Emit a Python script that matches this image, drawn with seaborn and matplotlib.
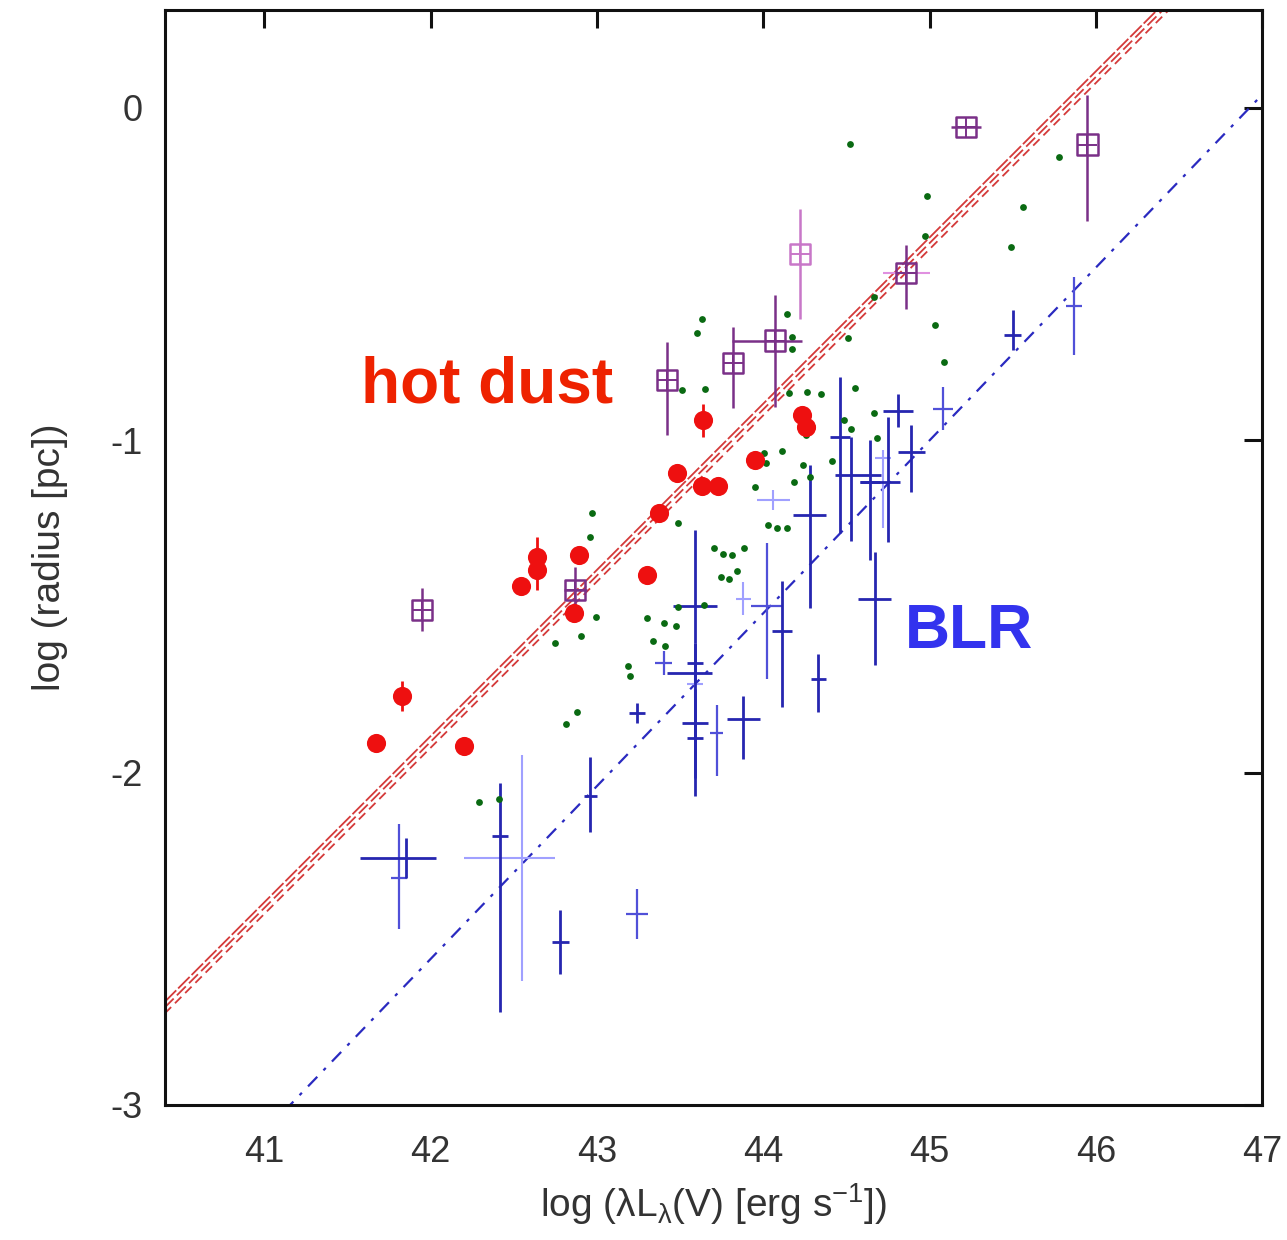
import numpy as np
import pandas as pd
import matplotlib
matplotlib.use("Agg")
import matplotlib.pyplot as plt
import seaborn as sns

# ---------------- data ----------------
# hot-dust reverberation radii (red filled circles)
dust_logL = [41.67, 41.83, 42.20, 42.54, 42.64, 42.64, 42.89, 42.86, 43.30, 43.37,
             43.48, 43.63, 43.73, 43.95, 43.64, 44.23, 44.26]
dust_logR = [-1.91, -1.77, -1.92, -1.44, -1.35, -1.39, -1.345, -1.52, -1.405, -1.22,
             -1.10, -1.137, -1.137, -1.06, -0.94, -0.925, -0.96]
dust_err = [0.0, 0.045, 0.0, 0.0, 0.06, 0.06, 0.0, 0.0, 0.0, 0.0,
            0.02, 0.0, 0.0, 0.0, 0.05, 0.0, 0.0]

# interferometric radii (boxed plus)
ir_logL = [41.95, 42.87, 43.42, 43.82, 44.07, 44.22, 44.86, 45.22, 45.95]
ir_logR = [-1.51, -1.45, -0.818, -0.767, -0.70, -0.44, -0.496, -0.057, -0.11]
ir_xlo = [0.0, 0.07, 0.0, 0.0, 0.26, 0.0, 0.0, 0.09, 0.0]
ir_xhi = [0.0, 0.07, 0.0, 0.0, 0.16, 0.0, 0.0, 0.09, 0.0]
ir_ylo = [0.065, 0.05, 0.165, 0.135, 0.20, 0.195, 0.11, 0.0, 0.23]
ir_yhi = [0.065, 0.07, 0.114, 0.108, 0.138, 0.135, 0.084, 0.0, 0.15]
ir_tone = ["d", "d", "d", "d", "d", "l", "d", "d", "d"]
ir_pink_xerr = [0.0, 0.0, 0.0, 0.0, 0.0, 0.0, 0.14, 0.0, 0.0]

# dust radii from other estimates (small green dots)
green_logL = [42.289, 42.410, 42.813, 42.880, 42.747, 42.904, 42.994, 42.958, 42.970,
              43.187, 43.199, 43.301, 43.404, 43.476, 43.337, 43.410, 43.488, 43.645,
              43.488, 43.705, 43.759, 43.813, 43.886, 43.747, 43.795, 43.843, 44.030,
              44.084, 44.145, 43.952, 44.187, 44.283, 44.241, 44.006, 44.114, 44.018,
              44.259, 44.295, 44.416, 44.488, 44.530, 44.669, 44.687, 43.512, 43.651,
              44.157, 44.265, 44.349, 44.554, 43.602, 43.633, 44.145, 44.175, 44.175,
              44.512, 44.669, 45.030, 45.090, 44.970, 44.982, 45.488, 45.560, 45.777,
              44.524]
green_logR = [-2.090, -2.081, -1.853, -1.817, -1.609, -1.588, -1.531, -1.290, -1.218,
              -1.678, -1.708, -1.534, -1.549, -1.558, -1.603, -1.618, -1.501, -1.495,
              -1.248, -1.323, -1.341, -1.344, -1.323, -1.411, -1.417, -1.393, -1.254,
              -1.263, -1.263, -1.140, -1.125, -1.110, -1.074, -1.038, -1.032, -1.068,
              -0.983, -0.959, -1.062, -0.938, -0.965, -0.917, -0.992, -0.848, -0.845,
              -0.857, -0.854, -0.860, -0.842, -0.677, -0.635, -0.620, -0.689, -0.725,
              -0.692, -0.568, -0.653, -0.764, -0.385, -0.265, -0.418, -0.298, -0.147,
              -0.108]

# broad-line-region radii (error-bar crosses)
blr_logL = [41.85, 41.81, 42.416, 42.55, 42.96, 42.78, 43.24, 43.24, 43.40, 43.59,
            43.59, 43.59, 43.59, 43.59, 43.59, 43.72, 43.88, 43.88, 44.02, 44.11,
            44.33, 44.28, 44.67, 44.06, 44.46, 44.53, 44.64, 44.75, 44.72, 44.81,
            44.89, 45.08, 45.50, 45.87]
blr_logR = [-2.256, -2.316, -2.19, -2.256, -2.07, -2.51, -2.425, -1.82, -1.67, -1.50,
            -1.70, -1.67, -1.85, -1.895, -1.735, -1.88, -1.84, -1.477, -1.498, -1.573,
            -1.717, -1.224, -1.477, -1.18, -0.989, -1.104, -1.125, -1.125, -1.053, -0.911,
            -1.035, -0.905, -0.683, -0.596]
blr_xlo = [0.277, 0.05, 0.05, 0.35, 0.04, 0.05, 0.065, 0.05, 0.05, 0.13,
           0.17, 0.05, 0.08, 0.05, 0.05, 0.04, 0.10, 0.045, 0.095, 0.06,
           0.045, 0.10, 0.10, 0.10, 0.06, 0.10, 0.06, 0.17, 0.05, 0.09,
           0.08, 0.06, 0.05, 0.05]
blr_xhi = [0.18, 0.05, 0.05, 0.20, 0.04, 0.05, 0.065, 0.05, 0.05, 0.13,
           0.10, 0.05, 0.08, 0.05, 0.05, 0.04, 0.10, 0.045, 0.095, 0.06,
           0.045, 0.10, 0.10, 0.10, 0.06, 0.18, 0.06, 0.07, 0.05, 0.09,
           0.08, 0.06, 0.05, 0.05]
blr_ylo = [0.06, 0.156, 0.53, 0.37, 0.11, 0.095, 0.075, 0.03, 0.035, 0.11,
           0.26, 0.06, 0.22, 0.12, 0.04, 0.13, 0.12, 0.05, 0.22, 0.23,
           0.10, 0.28, 0.20, 0.03, 0.29, 0.20, 0.235, 0.18, 0.21, 0.05,
           0.12, 0.065, 0.045, 0.147]
blr_yhi = [0.06, 0.16, 0.16, 0.31, 0.117, 0.095, 0.075, 0.03, 0.035, 0.23,
           0.09, 0.06, 0.10, 0.12, 0.04, 0.084, 0.07, 0.05, 0.19, 0.15,
           0.075, 0.15, 0.14, 0.03, 0.18, 0.114, 0.126, 0.195, 0.025, 0.05,
           0.08, 0.065, 0.075, 0.087]
blr_tone = ["d", "m", "d", "l", "d", "d", "m", "d", "m", "d",
            "d", "d", "d", "d", "l", "m", "d", "l", "m", "d",
            "d", "d", "d", "l", "d", "d", "d", "d", "l", "d",
            "d", "m", "d", "m"]

# fitted relations: log R = slope * (log L - pivot) + zero point
dust_fit_slope = 0.5
dust_fit_pivot = 45.85
dust_fit_zero = [0.035, 0.018, 0.0]
blr_fit_slope = 0.52
blr_fit_pivot = 46.93
blr_fit_zero = 0.003

x_ticks = [41, 42, 43, 44, 45, 46, 47]
y_ticks = [0, -1, -2, -3]

# ---------------- style ----------------
sns.set_theme(style="white")
plt.rcParams["font.family"] = ["Liberation Sans", "DejaVu Sans"]
plt.rcParams["mathtext.fontset"] = "custom"
plt.rcParams["mathtext.rm"] = "Liberation Sans"
plt.rcParams["mathtext.it"] = "Liberation Sans:italic"
plt.rcParams["mathtext.default"] = "regular"

TEXT = "#333333"
RED = "#ee1010"
GREEN = "#0a6a12"
PURPLE_D = "#7a3088"
PURPLE_L = "#c877c8"
BLUE = {"d": "#2626b0", "m": "#5050d8", "l": "#a0a0ff"}
BLUE_LW = {"d": 2.0, "m": 1.6, "l": 1.5}

fig = plt.figure(figsize=(12.87, 12.40), dpi=100)
ax = fig.add_axes([0.128, 0.109, 0.8526, 0.883])

xmin, xmax = 40.4, 47.0
ymin, ymax = -3.0, 0.295

# ---------------- fit lines ----------------
xg = np.linspace(xmin, xmax, 200)
line_styles = [(0, (9, 1.5)), (0, (7, 2.5)), (0, (5, 3))]
for z, ls in zip(dust_fit_zero, line_styles):
    yy = dust_fit_slope * (xg - dust_fit_pivot) + z
    sns.lineplot(x=xg, y=yy, ax=ax, color="#d43a3a", linestyle=ls, lw=1.3, zorder=2)

yb = blr_fit_slope * (xg - blr_fit_pivot) + blr_fit_zero
sns.lineplot(x=xg, y=yb, ax=ax, color="#2a2ac0", linestyle=(0, (6, 4, 1.5, 4)), lw=1.6, zorder=2)

# ---------------- BLR crosses ----------------
blr = pd.DataFrame(dict(x=blr_logL, y=blr_logR, xlo=blr_xlo, xhi=blr_xhi,
                        ylo=blr_ylo, yhi=blr_yhi, tone=blr_tone))
for tone in ["l", "m", "d"]:
    sub = blr[blr.tone == tone]
    ax.errorbar(sub.x, sub.y, xerr=[sub.xlo, sub.xhi], yerr=[sub.ylo, sub.yhi],
                fmt="none", ecolor=BLUE[tone], elinewidth=BLUE_LW[tone], capsize=0, zorder=3)

# ---------------- green dots ----------------
sns.scatterplot(x=green_logL, y=green_logR, ax=ax, color=GREEN, s=24, linewidth=0, zorder=4)

# ---------------- interferometric points ----------------
ir = pd.DataFrame(dict(x=ir_logL, y=ir_logR, xlo=ir_xlo, xhi=ir_xhi,
                       ylo=ir_ylo, yhi=ir_yhi, tone=ir_tone, px=ir_pink_xerr))
pk = ir[ir.px > 0]
ax.errorbar(pk.x, pk.y, xerr=pk.px, fmt="none", ecolor="#e090e0", elinewidth=1.5, zorder=4)
for tone, col in [("d", PURPLE_D), ("l", PURPLE_L)]:
    sub = ir[ir.tone == tone]
    ax.errorbar(sub.x, sub.y, xerr=[sub.xlo, sub.xhi], yerr=[sub.ylo, sub.yhi],
                fmt="none", ecolor=col, elinewidth=1.8, capsize=0, zorder=5)
    sns.scatterplot(x=sub.x, y=sub.y, ax=ax, marker="s", s=210, facecolors="none",
                    edgecolor=col, linewidth=1.8, zorder=6)
    sns.scatterplot(x=sub.x, y=sub.y, ax=ax, marker="+", s=210, color=col,
                    linewidth=1.4, zorder=6)

# ---------------- hot-dust reverberation ----------------
ax.errorbar(dust_logL, dust_logR, yerr=dust_err, fmt="none", ecolor=RED, elinewidth=2.0, zorder=6)
sns.scatterplot(x=dust_logL, y=dust_logR, ax=ax, color=RED, s=190, linewidth=0, zorder=7)

# ---------------- labels ----------------
ax.text(41.58, -0.835, "hot dust", color="#ee2200", fontsize=46, fontweight="bold",
        ha="left", va="center", zorder=8)
ax.text(44.85, -1.575, "BLR", color="#3333ee", fontsize=45, fontweight="bold",
        ha="left", va="center", zorder=8)

ax.set_xlim(xmin, xmax)
ax.set_ylim(ymin, ymax)
ax.set_xticks(x_ticks)
ax.set_yticks(y_ticks)
ax.set_xticklabels([str(t) for t in x_ticks])
ax.set_yticklabels([str(t) for t in y_ticks])
ax.tick_params(direction="in", length=13, width=2.2, top=True, right=True,
               labelsize=26, colors="#111111", labelcolor=TEXT)
ax.tick_params(axis="x", pad=22)
ax.tick_params(axis="y", pad=16)
for sp in ax.spines.values():
    sp.set_linewidth(2.2)
    sp.set_color("#111111")

ax.set_xlabel(r"log ($\lambda$L$_{\lambda}$(V) [erg s$^{-1}$])", fontsize=28, color=TEXT, labelpad=8)
ax.set_ylabel("log (radius [pc])", fontsize=28, color=TEXT, labelpad=30)

fig.savefig("out.png", dpi=100, facecolor="white")
